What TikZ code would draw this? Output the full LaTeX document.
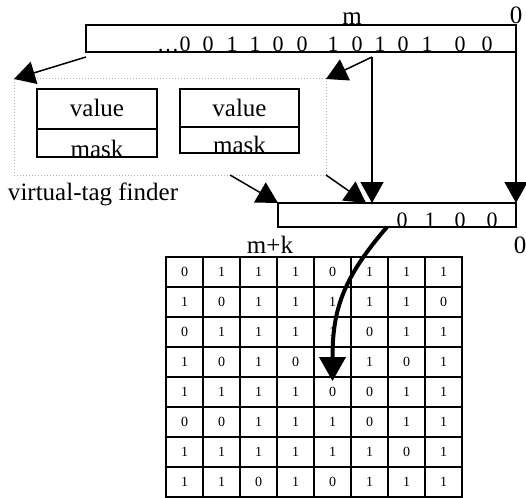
\documentclass[tikz,border=0pt]{standalone}
\usepackage{fontspec}
\setmainfont{Liberation Serif}
\usetikzlibrary{arrows.meta}
\definecolor{FinderGray}{HTML}{B0B0B0}

\begin{document}
\begin{tikzpicture}[x=1pt, y=-1pt,
  every node/.style={inner sep=0pt, outer sep=0pt},
  box/.style={draw, line width=1.8pt, anchor=north west},
  arr/.style={line width=1.5pt, -{Triangle[length=21pt, width=23pt]}},
  bigarr/.style={line width=4pt, -{Triangle[length=24pt, width=26pt]}},
  cell/.style={draw, line width=1.8pt, minimum width=37pt, minimum height=30pt, font=\fontsize{14}{16}\selectfont},
  word/.style={font=\fontsize{25}{28}\selectfont, anchor=base},
  bit/.style={font=\fontsize{22}{24}\selectfont, anchor=base}]
  \useasboundingbox (0,0) rectangle (526,497);

  \begin{scope}
    \node[box, minimum width=430pt, minimum height=27pt] (reg) at (86,25) {};
    \node[word] (regm) at (352,25) {m};
    \node[word] (regzero) at (516,24) {0};
    \node[bit, anchor=base east] (regdots) at (179,52) {…};
    \foreach \x/\b [count=\i] in {185/0,208/0,232/1,255/1,278/0,302/0,333/1,357/0,380/1,403/0,427/1,460/0,487/0}
      \node[bit] (regbit\i) at (\x,52) {\b};
  \end{scope}

  \begin{scope}
    \node[draw=FinderGray, line width=1pt, dash pattern=on 1pt off 2pt, anchor=north west,
      minimum width=312pt, minimum height=96pt] (finder) at (14,79) {};
    \foreach \i/\x/\w/\vh/\mh in {1/37/120/40/28, 2/180/119/38/26} {
      \node[box, minimum width=\w pt, minimum height=\vh pt] (value\i) at (\x,89) {};
      \node[box, minimum width=\w pt, minimum height=\mh pt] (mask\i) at (value\i.south west) {};
      \node[word] (valuetext\i) at ([yshift=-28pt]value\i.north) {value};
      \node[word] (masktext\i) at (mask\i.south) {mask};
    }
    \node[word, anchor=base west] (findername) at (8,200) {virtual-tag finder};
  \end{scope}

  \begin{scope}
    \node[box, minimum width=238pt, minimum height=24pt] (low) at (278,203) {};
    \foreach \x/\b [count=\i] in {402/0,430/1,460/0,492/0}
      \node[bit] (lowbit\i) at (\x,227) {\b};
    \node[word] (lowmk) at (270,253) {m+k};
    \node[word] (lowzero) at (520,253) {0};
  \end{scope}

  \coordinate (tap) at (372,57);
  \coordinate (join) at (tap |- low.north);
  \draw[arr] ([yshift=-5pt]reg.south west) -- (finder.north west);
  \draw[arr] (tap) -- (finder.north east);
  \draw[arr] (tap) -- (join);
  \draw[arr] (reg.south east) -- (reg.south east |- low.north);
  \draw[arr] ([xshift=60pt]finder.south) -- (low.north west);
  \draw[arr] (finder.south east) -- ([xshift=-6pt]join);

  \foreach \r/\row in {1/{0,1,1,1,0,1,1,1}, 2/{1,0,1,1,1,1,1,0}, 3/{0,1,1,1,1,0,1,1}, 4/{1,0,1,0,{},1,0,1},
                       5/{1,1,1,1,0,0,1,1}, 6/{0,0,1,1,1,0,1,1}, 7/{1,1,1,1,1,1,0,1}, 8/{1,1,0,1,0,1,1,1}}
    \foreach \v [count=\c] in \row
      \node[cell] (cell-\r-\c) at ({166+37*(\c-0.5)},{257+30*(\r-0.5)}) {\v};

  \coordinate (lowtap) at ([xshift=109pt]low.south west);
  \coordinate (celltop) at ([yshift=-4pt]cell-5-5.north);
  \draw[bigarr] (lowtap) .. controls +(-45,52) and +(0,-70) .. (celltop);
\end{tikzpicture}
\end{document}
